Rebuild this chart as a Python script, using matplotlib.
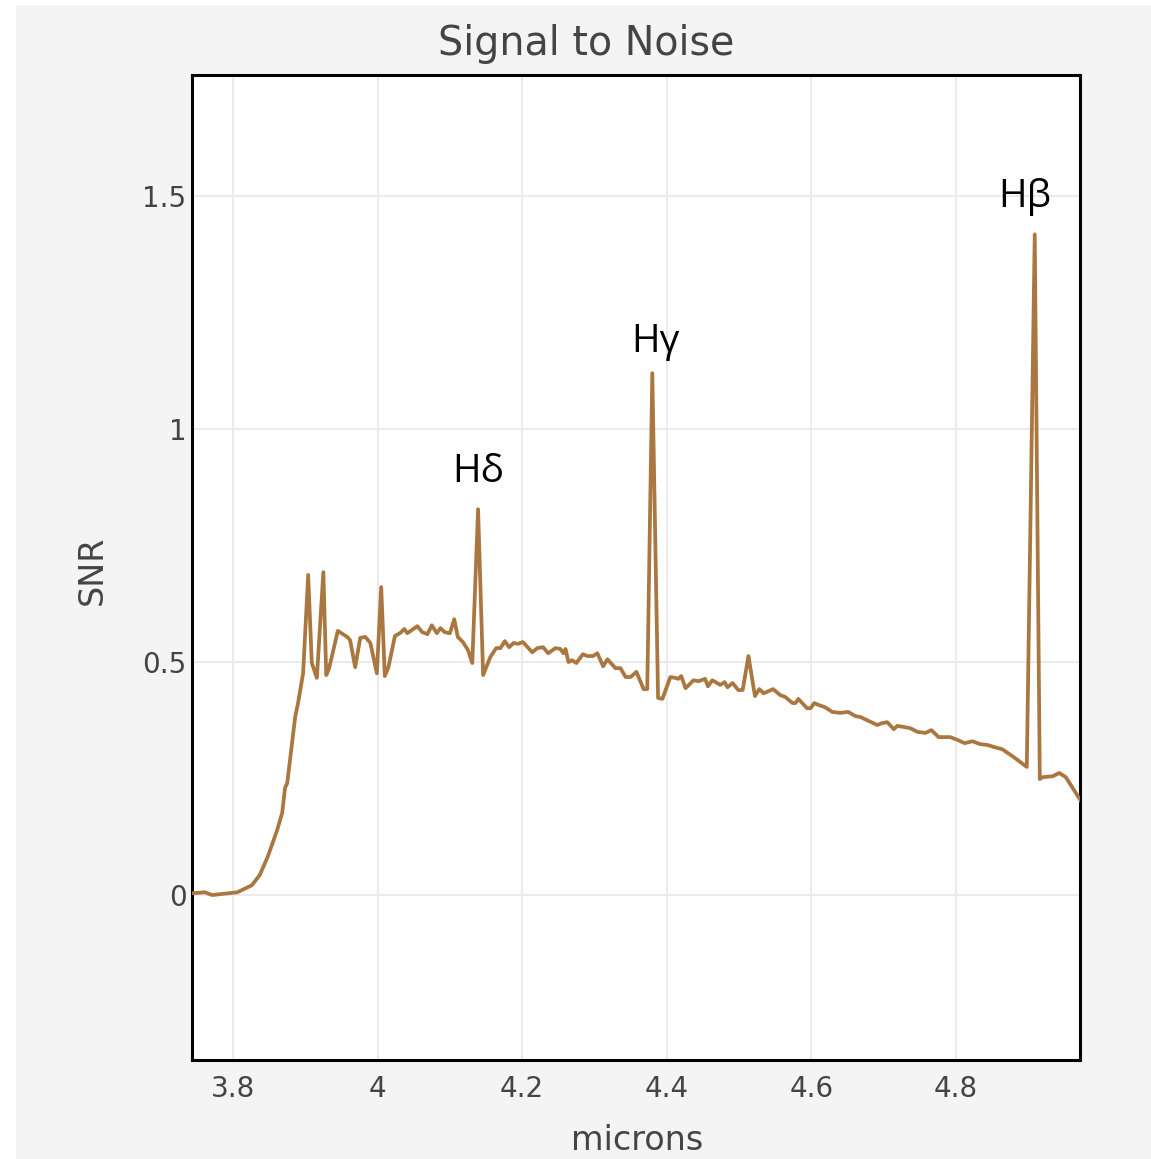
import matplotlib
matplotlib.use("Agg")
import matplotlib.pyplot as plt
from matplotlib.patches import Rectangle

# ---- data ----
microns = [
    3.745, 3.761, 3.771, 3.806, 3.826, 3.837, 3.848, 3.861, 3.868, 3.872,
    3.875, 3.886, 3.890, 3.897, 3.904, 3.909, 3.916, 3.925, 3.929, 3.933,
    3.945, 3.958, 3.962, 3.969, 3.976, 3.983, 3.990, 3.999, 4.005, 4.010,
    4.015, 4.024, 4.031, 4.037, 4.041, 4.055, 4.062, 4.069, 4.075, 4.082,
    4.087, 4.093, 4.100, 4.106, 4.111, 4.118, 4.125, 4.131, 4.139, 4.146,
    4.156, 4.164, 4.170, 4.176, 4.182, 4.188, 4.194, 4.201, 4.214, 4.221,
    4.229, 4.236, 4.246, 4.253, 4.257, 4.260, 4.264, 4.269, 4.275, 4.284,
    4.290, 4.298, 4.304, 4.312, 4.318, 4.329, 4.336, 4.343, 4.350, 4.358,
    4.368, 4.373, 4.380, 4.388, 4.394, 4.405, 4.412, 4.416, 4.420, 4.426,
    4.437, 4.444, 4.453, 4.457, 4.463, 4.474, 4.480, 4.484, 4.491, 4.499,
    4.505, 4.513, 4.522, 4.528, 4.534, 4.547, 4.557, 4.564, 4.574, 4.578,
    4.582, 4.594, 4.599, 4.604, 4.610, 4.619, 4.629, 4.640, 4.651, 4.661,
    4.668, 4.691, 4.698, 4.705, 4.714, 4.719, 4.727, 4.737, 4.747, 4.758,
    4.766, 4.776, 4.792, 4.802, 4.812, 4.823, 4.833, 4.844, 4.852, 4.864,
    4.880, 4.898, 4.909, 4.916, 4.920, 4.934, 4.943, 4.952, 4.972,
]
snr = [
    0.004, 0.006, 0.000, 0.006, 0.021, 0.043, 0.082, 0.139, 0.176, 0.230,
    0.240, 0.382, 0.412, 0.476, 0.687, 0.498, 0.466, 0.693, 0.472, 0.487,
    0.567, 0.554, 0.547, 0.489, 0.552, 0.554, 0.541, 0.476, 0.661, 0.470,
    0.489, 0.556, 0.562, 0.571, 0.562, 0.577, 0.564, 0.560, 0.579, 0.562,
    0.573, 0.564, 0.562, 0.592, 0.554, 0.543, 0.526, 0.498, 0.828, 0.472,
    0.511, 0.530, 0.530, 0.545, 0.532, 0.541, 0.539, 0.543, 0.521, 0.530,
    0.532, 0.519, 0.530, 0.528, 0.519, 0.528, 0.500, 0.504, 0.498, 0.517,
    0.513, 0.513, 0.519, 0.491, 0.506, 0.487, 0.487, 0.468, 0.468, 0.479,
    0.442, 0.442, 1.120, 0.423, 0.421, 0.468, 0.466, 0.464, 0.470, 0.444,
    0.461, 0.459, 0.464, 0.448, 0.461, 0.451, 0.457, 0.446, 0.455, 0.440,
    0.440, 0.513, 0.427, 0.442, 0.433, 0.442, 0.429, 0.425, 0.412, 0.412,
    0.421, 0.401, 0.401, 0.412, 0.408, 0.403, 0.393, 0.391, 0.393, 0.384,
    0.382, 0.365, 0.369, 0.371, 0.356, 0.363, 0.361, 0.358, 0.350, 0.348,
    0.354, 0.339, 0.339, 0.333, 0.326, 0.330, 0.324, 0.322, 0.318, 0.313,
    0.296, 0.275, 1.418, 0.249, 0.253, 0.255, 0.262, 0.253, 0.204,
]

line_labels = ["Hδ", "Hγ", "Hβ"]
line_label_x = [4.139, 4.384, 4.895]
line_label_y = [0.886, 1.165, 1.476]

x_ticks = [3.8, 4.0, 4.2, 4.4, 4.6, 4.8]
x_tick_labels = ["3.8", "4", "4.2", "4.4", "4.6", "4.8"]
y_ticks = [0, 0.5, 1, 1.5]
y_tick_labels = ["0", "0.5", "1", "1.5"]

# ---- figure ----
W, H = 1151, 1159
fig = plt.figure(figsize=(W / 100, H / 100), dpi=100, facecolor="white")
fig.patches.append(Rectangle((16 / W, 0), 1 - 16 / W, 1 - 5 / H,
                             transform=fig.transFigure, facecolor="#f4f4f4",
                             edgecolor="none", zorder=-10))

ax = fig.add_axes([192 / W, 1 - 1060 / H, (1080 - 192) / W, (1060 - 75) / H])
ax.set_facecolor("white")

ax.plot(microns, snr, color="#a9773f", lw=2.7, solid_joinstyle="round", zorder=3)

ax.set_xlim(3.7433, 4.9716)
ax.set_ylim(-0.354, 1.76)

ax.set_xticks(x_ticks)
ax.set_xticklabels(x_tick_labels)
ax.set_yticks(y_ticks)
ax.set_yticklabels(y_tick_labels)
ax.tick_params(axis="both", length=0, labelsize=20, labelcolor="#444444")
ax.tick_params(axis="x", pad=11)
ax.tick_params(axis="y", pad=4)
ax.grid(True, color="#ebebeb", lw=1.5, zorder=0)
ax.set_axisbelow(True)

for s in ax.spines.values():
    s.set_color("black")
    s.set_linewidth(2.2)

for lab, lx, ly in zip(line_labels, line_label_x, line_label_y):
    ax.text(lx, ly, lab, ha="center", va="baseline", fontsize=28,
            family=["Open Sans", "DejaVu Sans"], color="black", zorder=4)

ax.set_xlabel("microns", fontsize=24, color="#444444", va="center")
ax.xaxis.set_label_coords(0.501, -0.082)
ax.set_ylabel("SNR", fontsize=24, color="#444444", va="center")
ax.yaxis.set_label_coords(-0.1126, 0.4975)

fig.suptitle("Signal to Noise", x=586 / W, y=1 - 44 / H, va="center",
             fontsize=28.5, color="#444444")

fig.savefig("out.png", dpi=100, facecolor=fig.get_facecolor())
